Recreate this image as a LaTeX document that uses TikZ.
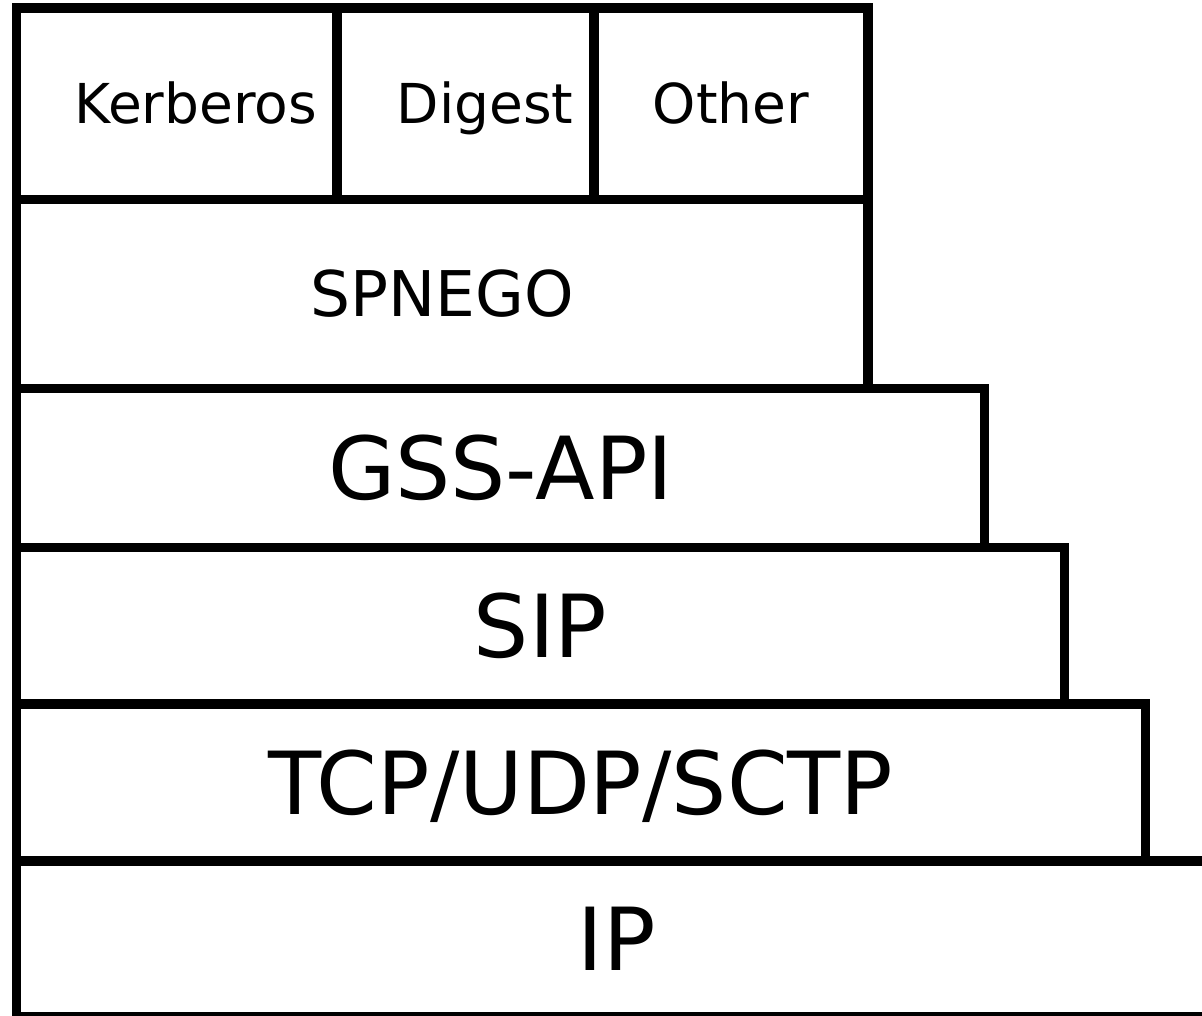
\documentclass[tikz,border=0pt]{standalone}
\usepackage{fontspec}
\setmainfont{DejaVu Sans}
\begin{document}
\begin{tikzpicture}[x=1pt,y=-1pt,
    box/.style={draw, line width=9.5pt, inner sep=0pt, outer sep=0pt, anchor=north west},
    lbl/.style={inner sep=0pt, text depth=0pt},
    small/.style={lbl, font=\fontsize{55}{60}\selectfont, text height=40.1pt},
    mid/.style={lbl, font=\fontsize{63}{70}\selectfont, text height=45.9pt},
    big/.style={lbl, font=\fontsize{87}{96}\selectfont, text height=63.4pt}]
    \useasboundingbox (0,0) rectangle (1202,1016);
    \clip (0,0) rectangle (1202,1016);

    % Mechanisms on top
    \node[box, minimum width=320.5pt, minimum height=191.5pt] (kerb) at (16.5,8) {};
    \node[box, minimum width=257pt, minimum height=191.5pt] (digest) at (kerb.north east) {};
    \node[box, small, minimum width=274pt, minimum height=191.5pt] (other) at (digest.north east) {Other};
    \node[small] (kerbtext) at ([xshift=19pt]kerb.center) {Kerberos};
    \node[small] (digesttext) at ([xshift=19.5pt]digest.center) {Digest};

    % Protocol stack below
    \node[box, mid, minimum width=851.5pt, minimum height=189pt] (spnego) at (kerb.south west) {SPNEGO};
    \node[box, big, minimum width=968pt, minimum height=159pt] (gssapi) at (spnego.south west) {GSS-API};
    \node[box, big, minimum width=1048pt, minimum height=156.5pt] (sip) at (gssapi.south west) {SIP};
    \node[box, big, minimum width=1129pt, minimum height=157pt] (tcp) at (sip.south west) {TCP/UDP/SCTP};
    \node[box, big, minimum width=1200pt, minimum height=156pt] (ip) at (tcp.south west) {IP};
\end{tikzpicture}
\end{document}
